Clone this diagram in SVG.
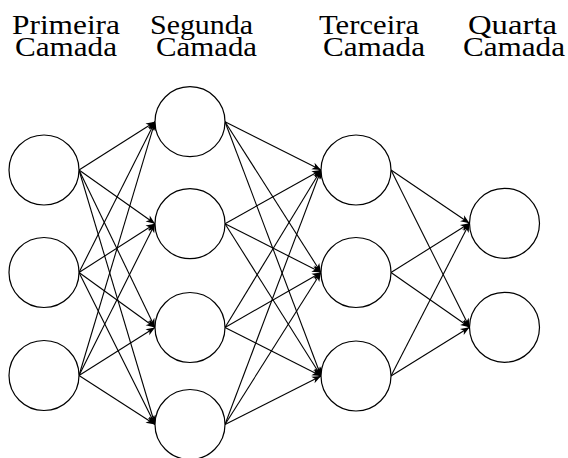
<svg xmlns="http://www.w3.org/2000/svg" width="568" height="458" viewBox="0 0 568 458">
<style>
.node{fill:#fff;stroke:#000;stroke-width:1.2}
.edge{stroke:#000;stroke-width:1.1;fill:none;marker-end:url(#st)}
.lbl{font-family:"Liberation Serif","DejaVu Serif",serif;font-size:27px;fill:#000}
</style>
<defs>
<marker id="st" markerUnits="userSpaceOnUse" viewBox="-10 -5 11 10" refX="0" refY="0" markerWidth="11" markerHeight="10" orient="auto">
<path d="M0,0 L-9,-3.6 L-6.5,0 L-9,3.6 Z" fill="#000"/>
</marker>
</defs>
<g id="labels">
<text class="lbl" x="12" y="34" textLength="108" lengthAdjust="spacingAndGlyphs">Primeira</text>
<text class="lbl" x="15" y="56" textLength="102" lengthAdjust="spacingAndGlyphs">Camada</text>
<text class="lbl" x="150" y="34" textLength="103" lengthAdjust="spacingAndGlyphs">Segunda</text>
<text class="lbl" x="156" y="56" textLength="101" lengthAdjust="spacingAndGlyphs">Camada</text>
<text class="lbl" x="319" y="34" textLength="100" lengthAdjust="spacingAndGlyphs">Terceira</text>
<text class="lbl" x="323" y="56" textLength="102" lengthAdjust="spacingAndGlyphs">Camada</text>
<text class="lbl" x="468" y="34" textLength="89" lengthAdjust="spacingAndGlyphs">Quarta</text>
<text class="lbl" x="463" y="56" textLength="102" lengthAdjust="spacingAndGlyphs">Camada</text>
</g>
<g id="connectors">
<line class="edge" x1="79" y1="170" x2="155" y2="121.7"/>
<line class="edge" x1="79" y1="170" x2="155" y2="223.7"/>
<line class="edge" x1="79" y1="170" x2="155" y2="327.5"/>
<line class="edge" x1="79" y1="170" x2="155" y2="424.5"/>
<line class="edge" x1="79" y1="272.5" x2="155" y2="121.7"/>
<line class="edge" x1="79" y1="272.5" x2="155" y2="223.7"/>
<line class="edge" x1="79" y1="272.5" x2="155" y2="327.5"/>
<line class="edge" x1="79" y1="272.5" x2="155" y2="424.5"/>
<line class="edge" x1="79" y1="375.5" x2="155" y2="121.7"/>
<line class="edge" x1="79" y1="375.5" x2="155" y2="223.7"/>
<line class="edge" x1="79" y1="375.5" x2="155" y2="327.5"/>
<line class="edge" x1="79" y1="375.5" x2="155" y2="424.5"/>
<line class="edge" x1="225" y1="121.7" x2="321" y2="170"/>
<line class="edge" x1="225" y1="121.7" x2="321" y2="272.5"/>
<line class="edge" x1="225" y1="121.7" x2="321" y2="376"/>
<line class="edge" x1="225" y1="223.7" x2="321" y2="170"/>
<line class="edge" x1="225" y1="223.7" x2="321" y2="272.5"/>
<line class="edge" x1="225" y1="223.7" x2="321" y2="376"/>
<line class="edge" x1="225" y1="327.5" x2="321" y2="170"/>
<line class="edge" x1="225" y1="327.5" x2="321" y2="272.5"/>
<line class="edge" x1="225" y1="327.5" x2="321" y2="376"/>
<line class="edge" x1="225" y1="424.5" x2="321" y2="170"/>
<line class="edge" x1="225" y1="424.5" x2="321" y2="272.5"/>
<line class="edge" x1="225" y1="424.5" x2="321" y2="376"/>
<line class="edge" x1="391" y1="170" x2="469.5" y2="223.3"/>
<line class="edge" x1="391" y1="170" x2="469.5" y2="327.3"/>
<line class="edge" x1="391" y1="272.5" x2="469.5" y2="223.3"/>
<line class="edge" x1="391" y1="272.5" x2="469.5" y2="327.3"/>
<line class="edge" x1="391" y1="376" x2="469.5" y2="223.3"/>
<line class="edge" x1="391" y1="376" x2="469.5" y2="327.3"/>
</g>
<g id="layer1">
<circle id="n1_1" class="node" cx="44" cy="170" r="35"/>
<circle id="n1_2" class="node" cx="44" cy="272.5" r="35"/>
<circle id="n1_3" class="node" cx="44" cy="375.5" r="35"/>
</g>
<g id="layer2">
<circle id="n2_1" class="node" cx="190" cy="121.7" r="35"/>
<circle id="n2_2" class="node" cx="190" cy="223.7" r="35"/>
<circle id="n2_3" class="node" cx="190" cy="327.5" r="35"/>
<circle id="n2_4" class="node" cx="190" cy="424.5" r="35"/>
</g>
<g id="layer3">
<circle id="n3_1" class="node" cx="356" cy="170" r="35"/>
<circle id="n3_2" class="node" cx="356" cy="272.5" r="35"/>
<circle id="n3_3" class="node" cx="356" cy="376" r="35"/>
</g>
<g id="layer4">
<circle id="n4_1" class="node" cx="504.5" cy="223.3" r="35"/>
<circle id="n4_2" class="node" cx="504.5" cy="327.3" r="35"/>
</g>
</svg>
